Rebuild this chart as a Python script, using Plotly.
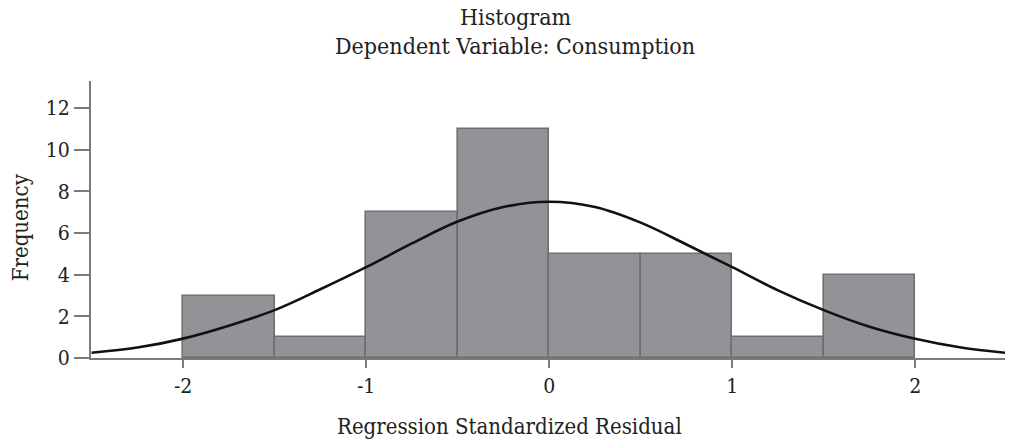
import plotly.graph_objects as go

# Histogram bins (centers) and counts
bin_centers = [-1.75, -1.25, -0.75, -0.25, 0.25, 0.75, 1.25, 1.75]
counts = [3, 1, 7, 11, 5, 5, 1, 4]
bin_width = 0.5

# Normal curve
curve_x = [-2.5, -2.25, -2.0, -1.75, -1.5, -1.25, -1.0, -0.75, -0.5, -0.25, 0.0,
           0.25, 0.5, 0.75, 1.0, 1.25, 1.5, 1.75, 2.0, 2.25, 2.5]
curve_y = [0.25, 0.5, 0.93, 1.55, 2.3, 3.3, 4.36, 5.5, 6.55, 7.25, 7.5,
           7.25, 6.5, 5.45, 4.36, 3.25, 2.3, 1.5, 0.92, 0.5, 0.24]

x_ticks = [-2, -1, 0, 1, 2]
y_ticks = [0, 2, 4, 6, 8, 10, 12]

title_lines = ["Histogram", "Dependent Variable: Consumption"]
x_title = "Regression Standardized Residual"
y_title = "Frequency"

FONT = "DejaVu Serif Condensed, Liberation Serif, serif"
TXT = "#222222"
AX = "#7a7a7a"

fig = go.Figure()
fig.add_trace(go.Bar(
    x=bin_centers, y=counts, width=[bin_width] * len(counts),
    marker=dict(color="#939397", line=dict(color="#6f6f72", width=1.6)),
    showlegend=False, hoverinfo="x+y",
))
fig.add_trace(go.Scatter(
    x=curve_x, y=curve_y, mode="lines",
    line=dict(color="#111111", width=2.6, shape="spline", smoothing=1.0),
    showlegend=False,
))

# plot area: x 91..1005, y 81..358.5 (pixels)
def py(p):
    return (358.5 - p) / 277.5

def px(p):
    return (p - 91) / 914

annotations = [
    dict(text=title_lines[0], x=px(516), y=py(17), xref="paper", yref="paper",
         xanchor="center", yanchor="middle", showarrow=False,
         font=dict(family=FONT, size=23, color=TXT)),
    dict(text=title_lines[1], x=px(515), y=py(46), xref="paper", yref="paper",
         xanchor="center", yanchor="middle", showarrow=False,
         font=dict(family=FONT, size=23, color=TXT)),
    dict(text=x_title, x=px(509), y=py(427), xref="paper", yref="paper",
         xanchor="center", yanchor="middle", showarrow=False,
         font=dict(family=FONT, size=22, color=TXT)),
    dict(text=y_title, x=px(20.5), y=py(228), xref="paper", yref="paper",
         xanchor="center", yanchor="middle", showarrow=False, textangle=-90,
         font=dict(family=FONT, size=22, color=TXT)),
]

fig.update_layout(
    width=1009, height=444,
    margin=dict(l=91, r=4, t=81, b=85.5),
    paper_bgcolor="white", plot_bgcolor="white",
    font=dict(family=FONT, size=21, color=TXT),
    bargap=0,
    annotations=annotations,
    xaxis=dict(
        range=[-2.503, 2.49], tickvals=x_ticks, ticktext=[str(v) for v in x_ticks],
        showgrid=False, zeroline=False, showline=True, linecolor=AX, linewidth=2,
        ticks="outside", ticklen=8, tickwidth=2, tickcolor=AX,
        tickfont=dict(family=FONT, size=21, color=TXT),
    ),
    yaxis=dict(
        range=[0, 13.3], tickvals=y_ticks, ticktext=[str(v) for v in y_ticks],
        showgrid=False, zeroline=False, showline=True, linecolor=AX, linewidth=2,
        ticks="outside", ticklen=15, tickwidth=2, tickcolor=AX,
        tickfont=dict(family=FONT, size=21, color=TXT),
    ),
)

fig.write_html(
    "out.html",
    config={"displayModeBar": False},
    post_script="document.body.style.margin='0';document.body.style.overflow='hidden';",
)
